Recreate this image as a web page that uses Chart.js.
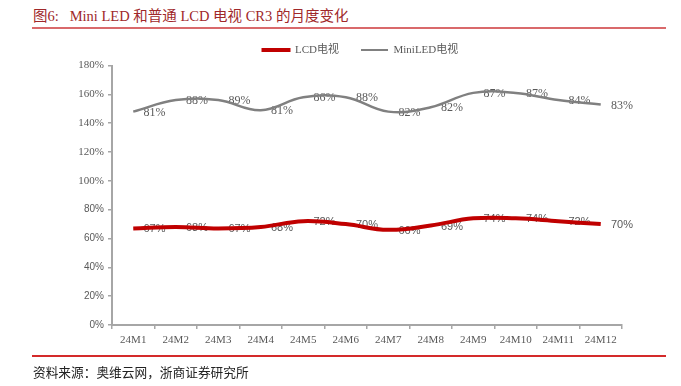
<!DOCTYPE html>
<html>
<head>
<meta charset="utf-8">
<script src="https://cdn.jsdelivr.net/npm/chart.js@4"></script>
<style>
  body { margin: 0; background: #fff; }
  #wrap { position: relative; width: 681px; height: 386px; overflow: hidden; }
  #title {
    position: absolute; left: 33px; top: 4px;
    font: 14.5px "Liberation Serif", "Noto Sans CJK SC", serif;
    color: #A0282A; white-space: pre;
  }
  #topLine { position: absolute; left: 32px; top: 27px; width: 634px; height: 2px; background: #D9696B; }
  #bottomLine { position: absolute; left: 32px; top: 355px; width: 634px; height: 2px; background: #D42A2A; }
  #source {
    position: absolute; left: 33px; top: 362px;
    font: 12.7px "Noto Sans CJK SC", sans-serif; color: #222;
  }
  canvas { position: absolute; left: 0; top: 0; }
</style>
</head>
<body>
<div id="wrap">
  <div id="title">图6:   Mini LED 和普通 LCD 电视 CR3 的月度变化</div>
  <div id="topLine"></div>
  <canvas id="lineChart" width="681" height="386"></canvas>
  <div id="bottomLine"></div>
  <div id="source">资料来源：奥维云网，浙商证券研究所</div>
</div>
<script>
// ================= DATA =================
const months = ['24M1','24M2','24M3','24M4','24M5','24M6','24M7','24M8','24M9','24M10','24M11','24M12'];
const lcdCR3 = [67, 68, 67, 68, 72, 70, 66, 69, 74, 74, 72, 70];
const miniLedCR3 = [81, 88, 89, 81, 86, 88, 82, 82, 87, 87, 84, 83];
const yTicks = [0, 20, 40, 60, 80, 100, 120, 140, 160, 180];

const axisGray = '#A6A6A6';
const textGray = '#595959';

/* ================= VALUE LABELS ================= */
// labels sit half a category to the right of each point, under the lines
const valueLabels = {
  id: 'valueLabels',
  beforeDatasetsDraw(chart) {
    const ctx = chart.ctx;
    const x = chart.scales.x;
    const half = (x.getPixelForValue(1) - x.getPixelForValue(0)) / 2;
    ctx.save();
    ctx.textAlign = 'center';
    ctx.textBaseline = 'middle';
    ctx.fillStyle = textGray;
    chart.data.datasets.forEach(function (ds, di) {
      const meta = chart.getDatasetMeta(di);
      ctx.font = di === 0 ? '11px "Liberation Sans", Arial, sans-serif'
                          : '12px "Liberation Serif", "Times New Roman", serif';
      meta.data.forEach(function (pt, i) {
        ctx.fillText(ds.data[i] + '%', pt.x + half, pt.y + 1);
      });
    });
    ctx.restore();
  }
};

/* ================= LINE CHART ================= */
const lineChart = new Chart(document.getElementById('lineChart'), {
  type: 'line',
  data: {
    labels: months,
    datasets: [{
      label: 'LCD电视',
      data: lcdCR3,
      borderColor: '#C00000',
      backgroundColor: '#C00000',
      borderWidth: 4,
      tension: 0.4,
      pointRadius: 0,
      fill: false
    }, {
      label: 'MiniLED电视',
      data: miniLedCR3,
      borderColor: '#808080',
      backgroundColor: '#808080',
      borderWidth: 2.5,
      tension: 0.4,
      pointRadius: 0,
      fill: false
    }]
  },
  options: {
    responsive: false,
    animation: false,
    layout: { padding: { left: 0, right: 59, top: 22.5, bottom: 36 } },
    plugins: {
      legend: {
        position: 'top',
        fullSize: false,
        labels: {
          boxWidth: 27,
          boxHeight: 2,
          padding: 22,
          color: textGray,
          font: { family: '"Liberation Serif", "Noto Sans CJK SC", serif', size: 11 },
          // trailing blank nudges the centred legend a little to the left
          generateLabels: function (chart) {
            const items = Chart.defaults.plugins.legend.labels.generateLabels(chart);
            items[0].lineWidth = 2;
            items[1].lineWidth = 0;
            items[items.length - 1].text += '\u2003\u2009';
            return items;
          }
        }
      },
      tooltip: { enabled: false }
    },
    scales: {
      x: {
        offset: true,
        grid: { offset: true, drawOnChartArea: false, tickLength: 4, color: axisGray, lineWidth: 1.5 },
        border: { color: axisGray, width: 2 },
        ticks: {
          color: textGray, padding: 5, maxRotation: 0,
          font: { family: '"Liberation Serif", "Times New Roman", serif', size: 11 }
        },
        afterFit: function (scale) { scale.height = 25; }
      },
      y: {
        stacked: true,
        min: 0,
        max: 180,
        grid: { drawOnChartArea: false, tickLength: 4, color: axisGray, lineWidth: 1.5 },
        border: { color: axisGray, width: 2 },
        afterBuildTicks: function (scale) {
          scale.ticks = yTicks.map(function (v) { return { value: v }; });
        },
        ticks: {
          color: textGray,
          padding: 4,
          callback: function (v) { return v + '%'; },
          font: function (c) {
            return c.tick && c.tick.value >= 100
              ? { family: '"Liberation Serif", "Times New Roman", serif', size: 11 }
              : { family: '"Liberation Sans", Arial, sans-serif', size: 10 };
          }
        },
        afterFit: function (scale) { scale.width = 112; }
      }
    }
  },
  plugins: [valueLabels]
});
</script>
</body>
</html>
